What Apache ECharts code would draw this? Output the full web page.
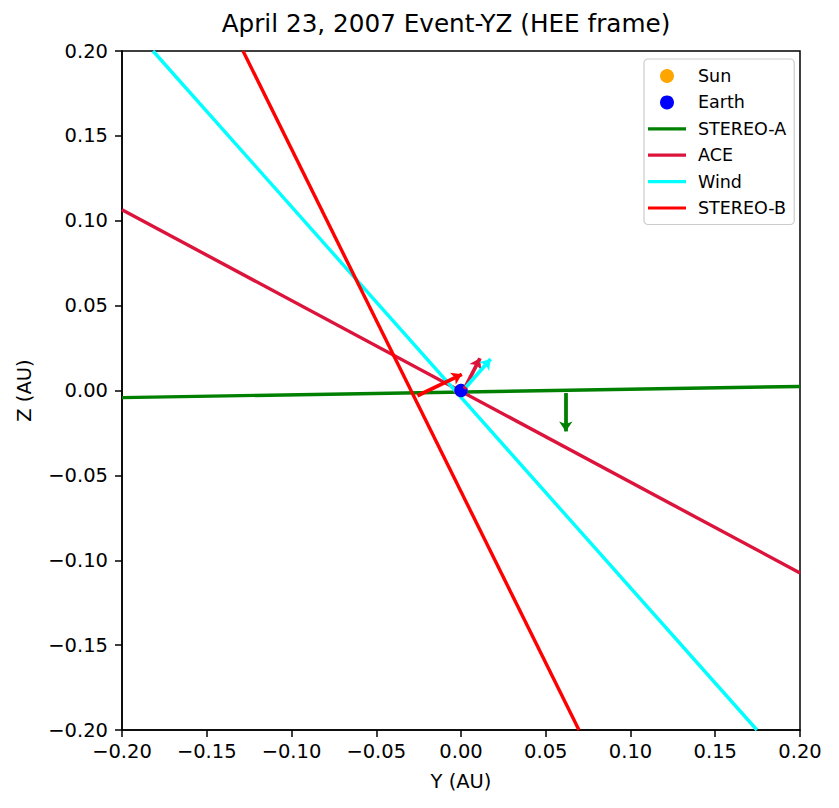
<!DOCTYPE html>
<html>
<head>
<meta charset="utf-8">
<script src="https://cdn.jsdelivr.net/npm/echarts@6/dist/echarts.min.js"></script>
<style>
html,body{margin:0;padding:0;background:#fff;}
#chart{width:839px;height:808px;}
</style>
</head>
<body>
<div id="chart"></div>
<script>
// Axis ticks
const axisTicks = [-0.2, -0.15, -0.1, -0.05, 0, 0.05, 0.1, 0.15, 0.2];

// Body positions (Y, Z) in AU
const sunPos = [0.0, 0.0];
const earthPos = [0.0, 0.0];

// Spacecraft lines (endpoints Y, Z)
const lineNames = ['STEREO-A', 'ACE', 'Wind', 'STEREO-B'];
const lineColors = ['#008000', '#DC143C', '#00FFFF', '#FF0000'];
const stereoA_Y = [-0.2, 0.2];
const stereoA_Z = [-0.0042, 0.0024];
const ace_Y = [-0.2, 0.2];
const ace_Z = [0.1065, -0.1075];
const wind_Y = [-0.1817, 0.1746];
const wind_Z = [0.2, -0.2];
const stereoB_Y = [-0.1286, 0.0696];
const stereoB_Z = [0.2, -0.2];

// Arrows (tail -> tip), order as lineNames
const arrowTailY = [0.0618, 0.0020, 0.0030, -0.0257];
const arrowTailZ = [-0.0015, 0.0010, 0.0020, -0.0031];
const arrowTipY = [0.0618, 0.0112, 0.0175, 0.0005];
const arrowTipZ = [-0.0241, 0.0190, 0.0185, 0.0095];

const lineYs = [stereoA_Y, ace_Y, wind_Y, stereoB_Y];
const lineZs = [stereoA_Z, ace_Z, wind_Z, stereoB_Z];

const FONT = 'DejaVu Sans';
function fmt(v) {
  if (Math.abs(v) < 1e-9) return '0.00';
  return (v < 0 ? '\u2212' : '') + Math.abs(v).toFixed(2);
}

const chart = echarts.init(document.getElementById('chart'), null, {renderer: 'svg'});

const series = [];
lineNames.forEach((n, i) => {
  series.push({
    name: n, type: 'line', symbol: 'none', showSymbol: false, z: 2,
    data: lineYs[i].map((y, k) => [y, lineZs[i][k]]),
    lineStyle: {color: lineColors[i], width: 3.4},
    itemStyle: {color: lineColors[i]},
    silent: true
  });
});
lineNames.forEach((n, i) => {
  series.push({
    name: n + ' dir', type: 'lines', coordinateSystem: 'cartesian2d', z: 4,
    symbol: ['none', 'arrow'], symbolSize: 10,
    lineStyle: {color: lineColors[i], width: 3.8, opacity: 1},
    data: [{coords: [[arrowTailY[i], arrowTailZ[i]], [arrowTipY[i], arrowTipZ[i]]]}],
    silent: true
  });
});
series.push({
  name: 'Sun', type: 'scatter', symbolSize: 13.5, z: 3,
  itemStyle: {color: '#FFA500', opacity: 1}, data: [sunPos]
});
series.push({
  name: 'Earth', type: 'scatter', symbolSize: 13.5, z: 3,
  itemStyle: {color: '#0000FF', opacity: 1}, data: [earthPos]
});

function axisCommon(name) {
  return {
    type: 'value', min: -0.2, max: 0.2, interval: 0.05,
    name: name, nameLocation: 'middle',
    nameTextStyle: {fontFamily: FONT, fontSize: 19.5, color: '#000'},
    axisLine: {show: true, onZero: false, lineStyle: {color: '#000', width: 1.5}},
    axisTick: {show: true, inside: false, length: 7, lineStyle: {color: '#000', width: 1.5}},
    splitLine: {show: false},
    axisLabel: {fontFamily: FONT, fontSize: 19.5, color: '#000', formatter: fmt}
  };
}
const xAxis = axisCommon('Y (AU)');
xAxis.nameGap = 41;
xAxis.axisLabel.margin = 11;
const yAxis = axisCommon('Z (AU)');
yAxis.nameGap = 88;
yAxis.axisLabel.margin = 14;

const lineIcon = 'path://M0,0M38,14M0,5.4L38,5.4L38,8.6L0,8.6Z';

chart.setOption({
  animation: false,
  backgroundColor: '#fff',
  grid: {left: 122, top: 51, right: 39, bottom: 78, show: true, borderColor: '#000', borderWidth: 1.5, backgroundColor: 'transparent'},
  graphic: [{
    type: 'text', x: 446, y: 11,
    style: {text: 'April 23, 2007 Event-YZ (HEE frame)', font: '24.7px "DejaVu Sans"', fill: '#000', align: 'center', verticalAlign: 'top'}
  }],
  legend: {
    orient: 'vertical', left: 644, top: 59,
    padding: [8, 8, 7.5, 4],
    itemWidth: 38, itemHeight: 14, itemGap: 8.4,
    borderColor: '#cccccc', borderWidth: 1.2, borderRadius: 4, backgroundColor: '#fff',
    textStyle: {fontFamily: FONT, fontSize: 17.5, color: '#000', padding: [0, 0, 0, 7]},
    data: [
      {name: 'Sun', icon: 'circle'},
      {name: 'Earth', icon: 'circle'},
      {name: 'STEREO-A', icon: lineIcon},
      {name: 'ACE', icon: lineIcon},
      {name: 'Wind', icon: lineIcon},
      {name: 'STEREO-B', icon: lineIcon}
    ],
    selectedMode: false
  },
  xAxis: xAxis,
  yAxis: yAxis,
  series: series
});
</script>
</body>
</html>
